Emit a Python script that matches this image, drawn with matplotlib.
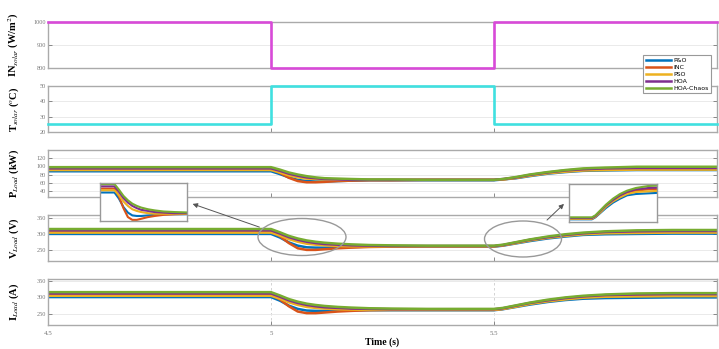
import matplotlib
matplotlib.use('Agg')
import matplotlib.pyplot as pyplot
from matplotlib.patches import Ellipse
from matplotlib.lines import Line2D

# time samples (s)
t = [4.5, 5.0, 5.02, 5.04, 5.06, 5.08, 5.10, 5.12, 5.15, 5.18, 5.22, 5.27, 5.35, 5.5,
     5.52, 5.55, 5.58, 5.62, 5.66, 5.70, 5.75, 5.82, 5.9, 6.0]

# solar inputs (step profiles)
t_step = [4.5, 5.0, 5.5, 6.0]
irradiance = [1000, 800, 1000, 1000]
temperature = [25, 50, 25, 25]

methods = ['P&O', 'INC', 'PSO', 'HOA', 'HOA-Chaos']
colors = ['#0072BD', '#D95319', '#EDB120', '#7E2F8E', '#77AC30']

# load power (kW)
p_po = [88, 88, 81, 73, 67, 64, 63, 63, 64, 65, 66, 66, 66, 66, 68, 71, 76, 82, 86, 89, 90, 91, 91, 91]
p_inc = [93, 93, 84, 72, 64, 61, 61, 62, 64, 65, 66, 66, 67, 67, 68, 72, 78, 84, 88, 91, 93, 94, 94, 94]
p_pso = [91, 91, 85, 78, 73, 70, 69, 68, 67, 67, 67, 67, 67, 67, 68, 72, 77, 83, 87, 90, 91, 92, 92, 92]
p_hoa = [95, 95, 89, 82, 77, 73, 71, 69, 68, 67, 67, 67, 67, 67, 69, 73, 79, 85, 90, 93, 95, 96, 96, 96]
p_chaos = [98, 98, 92, 85, 80, 76, 73, 71, 70, 69, 68, 68, 67, 67, 69, 74, 80, 86, 91, 95, 97, 99, 99, 99]

# load voltage (V)
v_po = [300, 300, 289, 274, 264, 259, 258, 258, 259, 260, 261, 261, 261, 261, 264, 271, 278, 286, 292, 297, 299, 300, 301, 301]
v_inc = [307, 307, 293, 272, 256, 251, 251, 253, 256, 258, 260, 261, 262, 262, 265, 273, 281, 289, 296, 301, 304, 306, 307, 307]
v_pso = [304, 304, 295, 284, 276, 270, 267, 265, 263, 262, 262, 262, 262, 262, 265, 272, 280, 288, 294, 299, 302, 303, 304, 304]
v_hoa = [311, 311, 301, 290, 282, 276, 272, 269, 267, 265, 264, 263, 263, 263, 266, 274, 282, 290, 297, 302, 306, 308, 309, 309]
v_chaos = [315, 315, 305, 294, 286, 280, 276, 273, 270, 268, 266, 265, 264, 264, 267, 275, 283, 292, 299, 304, 308, 311, 312, 312]

# load current (A)
i_po = [301, 301, 290, 275, 265, 260, 259, 259, 260, 261, 261, 261, 261, 261, 264, 271, 278, 286, 292, 296, 298, 299, 300, 300]
i_inc = [308, 308, 294, 273, 257, 252, 252, 254, 257, 259, 261, 262, 262, 262, 265, 273, 281, 289, 296, 301, 304, 306, 307, 307]
i_pso = [305, 305, 296, 285, 277, 271, 268, 266, 264, 263, 262, 262, 262, 262, 265, 272, 280, 288, 294, 299, 302, 303, 304, 304]
i_hoa = [312, 312, 302, 291, 283, 277, 273, 270, 268, 266, 265, 264, 264, 264, 267, 275, 283, 291, 298, 303, 307, 309, 310, 310]
i_chaos = [316, 316, 306, 295, 287, 281, 277, 274, 271, 269, 267, 266, 265, 265, 268, 276, 284, 293, 300, 305, 309, 312, 313, 313]

power = [p_po, p_inc, p_pso, p_hoa, p_chaos]
voltage = [v_po, v_inc, v_pso, v_hoa, v_chaos]
current = [i_po, i_inc, i_pso, i_hoa, i_chaos]

pyplot.rcParams['font.family'] = 'Liberation Serif'
pyplot.rcParams['mathtext.fontset'] = 'stix'

W, H = 719, 349
fig = pyplot.figure(figsize=(W / 100, H / 100), dpi=100)

def px_axes(top, bottom, left=48, right=717):
    return fig.add_axes([left / W, 1 - bottom / H, (right - left) / W, (bottom - top) / H])

def style(ax, ylim, yticks, label):
    ax.set_xlim(4.5, 6.0)
    ax.set_ylim(*ylim)
    ax.set_yticks(yticks)
    ax.set_xticks([4.5, 5, 5.5])
    ax.tick_params(direction='in', length=3, width=0.6, labelsize=4.5, colors='#777777',
                   right=True, top=False, pad=1.5)
    ax.grid(axis='y', color='#e6e6e6', lw=0.6)
    for s in ax.spines.values():
        s.set_color('#aaaaaa')
        s.set_linewidth(1.0)
    ax.set_ylabel(label, fontsize=7.5, fontweight='bold', labelpad=3)
    ax.yaxis.set_label_coords(-0.04, 0.5)

ax1 = px_axes(22, 68)
ax1.plot(t_step, irradiance, drawstyle='steps-post', color='#d84ad8', lw=1.9,
         clip_on=False, zorder=5)
style(ax1, (800, 1000), [800, 900, 1000], r'IN$_{solar}$ (W/m$^2$)')
ax1.set_xticklabels([])

ax2 = px_axes(86, 132)
ax2.plot(t_step, temperature, drawstyle='steps-post', color='#40e0e0', lw=1.9,
         clip_on=False, zorder=5)
style(ax2, (20, 50), [20, 30, 40, 50], r'T$_{solar}$ ($^o$C)')
ax2.set_xticklabels([])

ax3 = px_axes(150, 197)
for y, c in zip(power, colors):
    ax3.plot(t, y, color=c, lw=1.8)
style(ax3, (25, 140), [40, 60, 80, 100, 120], r'P$_{Load}$ (kW)')
ax3.set_xticklabels([])

ax4 = px_axes(215, 261)
for y, c in zip(voltage, colors):
    ax4.plot(t, y, color=c, lw=1.8)
style(ax4, (217, 358), [250, 300, 350], r'V$_{Load}$ (V)')
ax4.set_xticklabels([])

ax5 = px_axes(279, 325)
for y, c in zip(current, colors):
    ax5.plot(t, y, color=c, lw=1.8)
style(ax5, (216, 356), [250, 300, 350], r'I$_{Load}$ (A)')
ax5.grid(axis='x', color='#cccccc', lw=0.6, ls=(0, (3, 3)))
ax5.set_xticklabels(['4.5', '5', '5.5'])
ax5.tick_params(axis='x', pad=4, labelsize=5)
ax5.set_xlabel('Time (s)', fontsize=7, fontweight='bold', labelpad=1)

# zoom insets
in1 = px_axes(183, 221, 100, 187)
for y, c in zip(voltage, colors):
    in1.plot(t, y, color=c, lw=1.5)
in1.set_xlim(4.935, 5.325)
in1.set_ylim(249, 317)

in2 = px_axes(184, 222, 569, 657)
for y, c in zip(voltage, colors):
    in2.plot(t, y, color=c, lw=1.5)
in2.set_xlim(5.37, 5.87)
in2.set_ylim(257, 314)

for ax in (in1, in2):
    ax.set_xticks([])
    ax.set_yticks([])
    for s in ax.spines.values():
        s.set_color('#999999')
        s.set_linewidth(1.0)

for cx, cy, ew, eh in [(302, 237, 88, 37), (523, 239, 77, 36)]:
    fig.patches.append(Ellipse((cx / W, 1 - cy / H), ew / W, eh / H, transform=fig.transFigure,
                               fill=False, edgecolor='#999999', lw=1.0))

for (x0, y0), (x1, y1) in [((262, 228), (190, 203)), ((545, 222), (566, 202))]:
    fig.add_artist(matplotlib.patches.FancyArrowPatch(
        (x0 / W, 1 - y0 / H), (x1 / W, 1 - y1 / H), transform=fig.transFigure,
        arrowstyle='-|>', mutation_scale=7, color='#555555', lw=0.7))

handles = [Line2D([], [], color=c, lw=1.8) for c in colors]
leg = fig.legend(handles, methods, loc='upper left', bbox_to_anchor=(640 / W, 1 - 52 / H),
                 handlelength=4, framealpha=1, fancybox=False,
                 borderpad=0.4, labelspacing=0.25, handletextpad=0.4,
                 prop={'family': 'DejaVu Sans', 'size': 4.5})
leg.get_frame().set_edgecolor('#999999')
leg.get_frame().set_linewidth(0.8)

fig.savefig('out.png', dpi=100)
